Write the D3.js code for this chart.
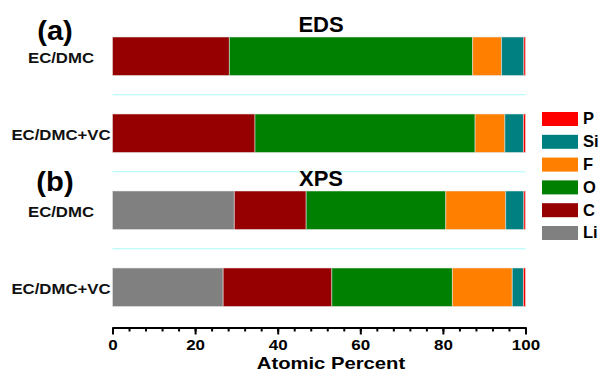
<!DOCTYPE html>
<html>
<head>
<meta charset="utf-8">
<script src="https://cdn.jsdelivr.net/npm/d3@7"></script>
<style>
  html, body { margin: 0; padding: 0; background: #fff; }
  svg { display: block; font-family: "Liberation Sans", Arial, sans-serif; font-weight: bold; }
</style>
</head>
<body>
<svg id="chart" width="600" height="374"></svg>
<script>
// Rows: two electrolytes, measured by EDS (a) and XPS (b)
const rows = ["EDS EC/DMC", "EDS EC/DMC+VC", "XPS EC/DMC", "XPS EC/DMC+VC"];
const rowLabels = ["EC/DMC", "EC/DMC+VC", "EC/DMC", "EC/DMC+VC"];
const panelTitles = ["EDS", "XPS"];
const panelTags = ["(a)", "(b)"];

// Atomic percent of each element, one value per row
const elements = ["Li", "C", "O", "F", "Si", "P"];
const Li = [0, 0, 29.5, 26.8];
const C  = [28.3, 34.5, 17.4, 26.3];
const O  = [58.9, 53.3, 33.8, 29.2];
const F  = [7.0, 7.2, 14.5, 14.5];
const Si = [5.4, 4.5, 4.4, 2.7];
const P  = [0.4, 0.5, 0.4, 0.5];
const colors = ["#808080", "#960000", "#008000", "#ff8000", "#008080", "#ff0000"];

const xTicks = [0, 20, 40, 60, 80, 100];
const xMinorTicks = d3.range(0, 101, 4);

const table = rows.map((r, i) => ({ row: r, Li: Li[i], C: C[i], O: O[i], F: F[i], Si: Si[i], P: P[i] }));
const stacked = d3.stack().keys(elements)(table);

const svg = d3.select("#chart");
const x = d3.scaleLinear().domain([0, 100]).range([112.5, 525.5]);
const y = d3.scaleBand().domain(rows).range([17.75, 325.75]).paddingInner(0.5).paddingOuter(0.25);
const color = d3.scaleOrdinal().domain(elements).range(colors);

// widen text glyphs horizontally by a factor
function widen(sel, k) {
  sel.each(function () {
    const w = this.getComputedTextLength();
    d3.select(this).attr("textLength", w * k).attr("lengthAdjust", "spacingAndGlyphs");
  });
}

// cyan separators between rows
const seps = rows.slice(0, -1).map(r => y(r) + y.bandwidth() + (y.step() - y.bandwidth()) / 2);
svg.append("g").selectAll("line").data(seps).join("line")
  .attr("x1", x(0)).attr("x2", x(100))
  .attr("y1", d => d).attr("y2", d => d)
  .attr("stroke", "#a8fbfb").attr("stroke-width", 1);

// stacked bars
svg.append("g").selectAll("g").data(stacked).join("g")
  .attr("fill", d => color(d.key))
  .selectAll("rect").data(d => d.filter(p => p[1] - p[0] > 0)).join("rect")
  .attr("x", d => x(d[0]))
  .attr("width", d => x(d[1]) - x(d[0]))
  .attr("y", d => y(d.data.row))
  .attr("height", y.bandwidth())
  .attr("stroke", "rgba(230,230,230,0.55)")
  .attr("stroke-width", 1);

// row labels
svg.append("g").selectAll("text").data(rows).join("text")
  .attr("x", 61)
  .attr("y", d => y(d) + y.bandwidth() / 2 + 6.5)
  .attr("text-anchor", "middle")
  .attr("font-size", 15.5)
  .attr("fill", "#111")
  .text((d, i) => rowLabels[i])
  .call(widen, 1.08);

// panel titles and tags
svg.append("g").selectAll("text").data(panelTitles).join("text")
  .attr("x", 321)
  .attr("y", (d, i) => y(rows[i * 2]) - 5.5)
  .attr("text-anchor", "middle")
  .attr("font-size", 22)
  .attr("fill", "#000")
  .text(d => d);

svg.append("g").selectAll("text").data(panelTags).join("text")
  .attr("x", 55)
  .attr("y", (d, i) => y(rows[i * 2]) + (i === 0 ? 3 : 0))
  .attr("text-anchor", "middle")
  .attr("font-size", 27)
  .attr("fill", "#000")
  .text(d => d)
  .call(widen, 1.08);

// x axis: major ticks with labels, minor ticks between
const axisY = 327.5;
const minor = svg.append("g").attr("transform", `translate(0,${axisY})`)
  .call(d3.axisBottom(x).tickValues(xMinorTicks).tickSize(4).tickSizeOuter(0).tickFormat(""));
minor.select(".domain").remove();
minor.selectAll("line").attr("stroke", "#000").attr("stroke-width", 2);

const major = svg.append("g").attr("transform", `translate(0,${axisY})`)
  .call(d3.axisBottom(x).tickValues(xTicks).tickSize(7).tickSizeOuter(0).tickPadding(5));
major.select(".domain").attr("stroke", "#000").attr("stroke-width", 2);
major.selectAll("line").attr("stroke", "#000").attr("stroke-width", 2);
major.selectAll("text")
  .attr("font-size", 14.5).attr("font-weight", "bold")
  .attr("font-family", "'Liberation Sans', Arial, sans-serif").attr("fill", "#000")
  .attr("y", 22.5).attr("dy", null)
  .call(widen, 1.17);

svg.append("text")
  .attr("x", 331).attr("y", 369)
  .attr("text-anchor", "middle")
  .attr("font-size", 17)
  .attr("fill", "#000")
  .text("Atomic Percent")
  .call(widen, 1.19);

// legend, P at the top down to Li
const legendItems = elements.slice().reverse();
const lg = svg.append("g").selectAll("g").data(legendItems).join("g")
  .attr("transform", (d, i) => `translate(542,${112 + i * 22.8})`);
lg.append("rect").attr("width", 36).attr("height", 14).attr("fill", d => color(d));
lg.append("text").attr("x", 41).attr("y", 12.3).attr("font-size", 16.5).attr("fill", "#000").text(d => d);
</script>
</body>
</html>
